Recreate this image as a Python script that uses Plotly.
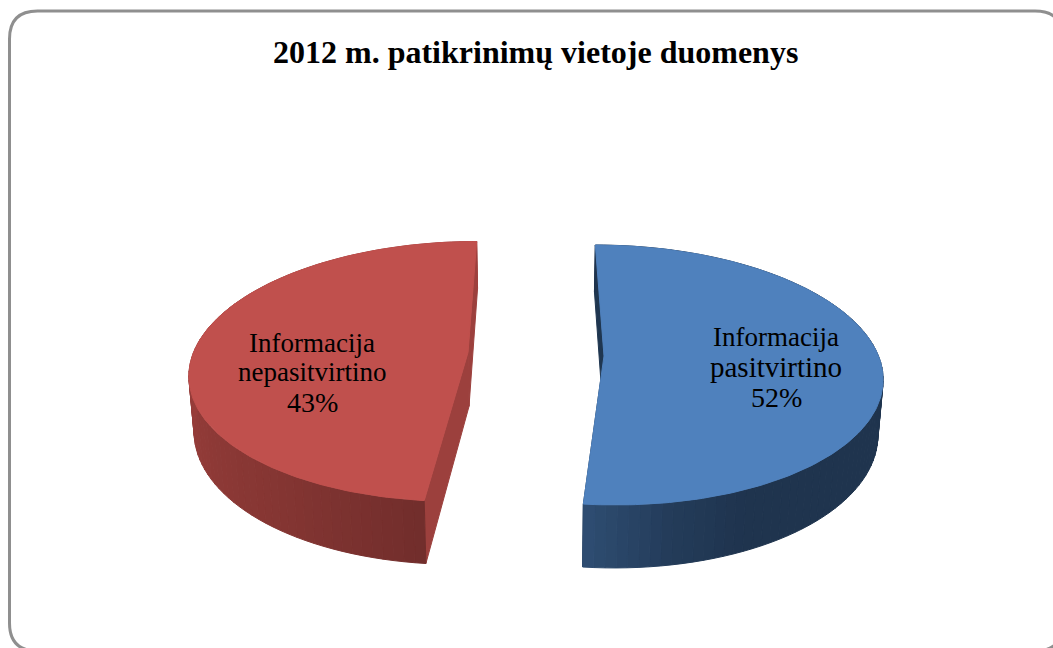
import numpy as np
import plotly.graph_objects as go

# --- data ---
title_text = "2012 m. patikrinimų vietoje duomenys"
categories = ["Informacija pasitvirtino", "Informacija nepasitvirtino"]
slice_shares = [51.6, 48.4]
printed_percent = ["52%", "43%"]

# --- styles / view geometry (pixels) ---
W, H = 1053, 648
VANISH_X = 536.0
RX, RY = 274.5, 127.2
PERSP = 0.146
DEPTH = 53.8
Z_CONVERGE = 0.015
apex = {"blue": (604.0, 356.0), "red": (468.0, 352.5)}
top_color = {"blue": "#4F81BD", "red": "#C0504D"}
cut_color = {"blue": "#1F3650", "red": "#9C403D"}
# wall shading anchors: angle (deg clockwise from far point) -> rgb
wall_ramp = {
    "blue": ([0, 155, 170, 186], [(31, 52, 78), (31, 52, 78), (36, 60, 90), (47, 78, 115)]),
    "red": ([186, 215, 245, 285, 360], [(114, 46, 44), (133, 54, 51), (145, 59, 56), (158, 64, 61), (158, 64, 61)]),
}


def project(theta_deg, radius, z, key):
    """Perspective projection of a point of the pie onto the page."""
    cx, cy = apex[key]
    t = np.radians(theta_deg)
    X, Y = radius * np.sin(t), -radius * np.cos(t)
    w = 1 - PERSP * Y
    sx = VANISH_X + (cx - VANISH_X + RX * X) / w
    sy = cy + (RY * Y + DEPTH * z) / w
    sx = sx + (VANISH_X - sx) * Z_CONVERGE * z
    return sx, sy


def poly(xs, ys, color):
    return go.Scatter(x=list(xs), y=list(ys), mode="lines", fill="toself", fillcolor=color,
                      line=dict(color=color, width=1), hoverinfo="skip", showlegend=False)


fig = go.Figure()

sweeps = np.array(slice_shares) / sum(slice_shares) * 360
spans = {"blue": (0.0, sweeps[0]), "red": (sweeps[0], sweeps[0] + sweeps[1])}

for key, (a0, a1) in spans.items():
    # straight cut walls
    for a in (a0, a1):
        p = [project(a, 0, 0, key), project(a, 1, 0, key), project(a, 1, 1, key), project(a, 0, 1, key)]
        fig.add_trace(poly([q[0] for q in p] + [p[0][0]], [q[1] for q in p] + [p[0][1]], cut_color[key]))
    # curved outer wall, shaded strip by strip
    n = int((a1 - a0) / 2)
    edges = np.linspace(a0, a1, n + 1)
    anchors, rgb = wall_ramp[key]
    for b0, b1 in zip(edges[:-1], edges[1:]):
        mid = (b0 + b1) / 2
        c = [int(np.interp(mid, anchors, [v[i] for v in rgb])) for i in range(3)]
        color = f"rgb({c[0]},{c[1]},{c[2]})"
        p = [project(b0, 1, 0, key), project(b1, 1, 0, key), project(b1, 1, 1, key), project(b0, 1, 1, key)]
        fig.add_trace(poly([q[0] for q in p] + [p[0][0]], [q[1] for q in p] + [p[0][1]], color))

for key, (a0, a1) in spans.items():
    th = np.linspace(a0, a1, 181)
    sx, sy = project(th, 1, 0, key)
    ax, ay = project(a0, 0, 0, key)
    fig.add_trace(poly([ax, *sx, ax], [ay, *sy, ay], top_color[key]))

# --- text ---
annotations = [dict(x=535, y=52, text=f"<b>{title_text}</b>", font=dict(size=32, color="#000000"))]
label_layout = [(776, [337, 367, 397], [27, 29, 28]), (312, [343, 372, 402], [27, 27, 28])]
for (cat, pct, (lx, ys, sizes)) in zip(categories, printed_percent, label_layout):
    first, second = cat.split(" ")
    for txt, ly, fs in zip((first, second, pct), ys, sizes):
        annotations.append(dict(x=lx, y=ly, text=txt, font=dict(size=fs, color="#000000")))
for a in annotations:
    a.update(xref="x", yref="y", showarrow=False, xanchor="center", yanchor="middle")

# rounded frame running off the right and bottom of the page
L, T, R, B, r = 9.5, 11.0, 1063.0, 651.0, 28.0
frame = (f"M {L} {T + r} Q {L} {T} {L + r} {T} L {R - r} {T} Q {R} {T} {R} {T + r} "
         f"L {R} {B - r} Q {R} {B} {R - r} {B} L {L + r} {B} Q {L} {B} {L} {B - r} Z")

fig.update_layout(
    width=W, height=H, margin=dict(l=0, r=0, t=0, b=0),
    paper_bgcolor="#FFFFFF", plot_bgcolor="#FFFFFF",
    font=dict(family="Liberation Serif, Times New Roman, serif"),
    showlegend=False,
    xaxis=dict(range=[0, W], visible=False, fixedrange=True),
    yaxis=dict(range=[H, 0], visible=False, fixedrange=True),
    annotations=annotations,
    shapes=[dict(type="path", path=frame, xref="x", yref="y", line=dict(color="#8F8F8F", width=3), layer="below")],
)

fig.write_html("out.html", post_script="document.body.style.margin='0';", config={"displayModeBar": False})
